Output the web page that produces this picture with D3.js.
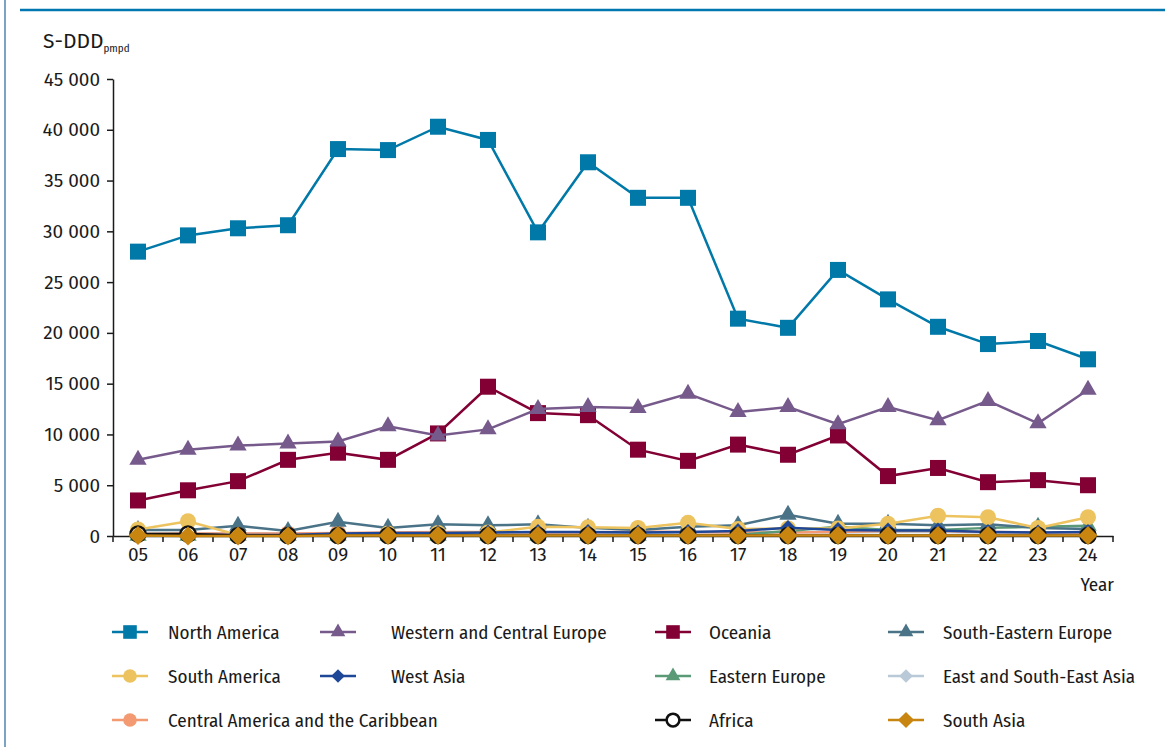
<!DOCTYPE html>
<html>
<head>
<meta charset="utf-8">
<style>
  body { margin: 0; background: #fff; }
  svg { font-family: "Fira Sans Condensed", Roboto, sans-serif; }
  .axis text { font-family: "Fira Sans", Roboto, sans-serif; font-size: 19px; fill: #1a1a1a; }
  .axis path, .axis line { stroke: #1a1a1a; stroke-width: 1.5; }
  .legend text { font-size: 19px; fill: #1a1a1a; }
</style>
<script src="https://cdn.jsdelivr.net/npm/d3@7"></script>
</head>
<body>
<svg width="1165" height="747"></svg>
<script>
// years on the x axis
var years = ["05","06","07","08","09","10","11","12","13","14","15","16","17","18","19","20","21","22","23","24"];
var yTicks = [0, 5000, 10000, 15000, 20000, 25000, 30000, 35000, 40000, 45000];

// S-DDD per million per day, by region
var northAmerica   = [28000, 29600, 30300, 30600, 38100, 38000, 40300, 39000, 29900, 36800, 33300, 33300, 21400, 20500, 26200, 23300, 20600, 18900, 19200, 17400];
var westCentralEur = [7500, 8500, 8900, 9100, 9300, 10800, 9900, 10500, 12500, 12700, 12600, 14000, 12200, 12700, 11000, 12700, 11400, 13300, 11100, 14400];
var oceania        = [3500, 4500, 5400, 7500, 8200, 7500, 10100, 14700, 12100, 11900, 8500, 7400, 9000, 8000, 9900, 5900, 6700, 5300, 5500, 5000];
var southEastEur   = [600, 600, 1000, 500, 1400, 800, 1150, 1050, 1150, 800, 600, 900, 1050, 2100, 1200, 1200, 1050, 1150, 800, 700];
var southAmerica   = [650, 1450, 100, 50, 150, 250, 300, 350, 900, 850, 800, 1300, 700, 750, 750, 1200, 2000, 1850, 800, 1850];
var westAsia       = [150, 150, 100, 100, 250, 300, 300, 350, 400, 400, 350, 400, 500, 800, 600, 550, 550, 400, 350, 400];
var easternEur     = [30, 30, 30, 30, 30, 30, 30, 30, 30, 30, 30, 30, 100, 500, 900, 600, 600, 800, 900, 1000];
var eastSEAsia     = [200, 250, 250, 250, 250, 250, 300, 300, 300, 300, 300, 350, 350, 400, 350, 400, 400, 350, 300, 300];
var centralAmerica = [200, 250, 250, 250, 300, 350, 400, 400, 350, 350, 450, 400, 350, 350, 400, 500, 500, 400, 350, 350];
var africa         = [200, 200, 50, 50, 50, 50, 50, 50, 50, 50, 50, 50, 50, 50, 50, 50, 50, 50, 50, 50];
var southAsia      = [50, 0, 0, 0, 50, 50, 50, 50, 50, 50, 50, 50, 50, 50, 50, 50, 50, 50, 50, 50];

var series = [
  {name: "East and South-East Asia", values: eastSEAsia, color: "#b9c9d8", shape: "diamond", col: 3, row: 1},
  {name: "Central America and the Caribbean", values: centralAmerica, color: "#f39a72", shape: "circle", col: 0, row: 2},
  {name: "Eastern Europe", values: easternEur, color: "#5a9a76", shape: "triangle", col: 2, row: 1},
  {name: "South-Eastern Europe", values: southEastEur, color: "#4a7388", shape: "triangle", col: 3, row: 0},
  {name: "South America", values: southAmerica, color: "#ecc35e", shape: "circle", col: 0, row: 1},
  {name: "West Asia", values: westAsia, color: "#1f4797", shape: "diamond", col: 1, row: 1},
  {name: "Africa", values: africa, color: "#111111", shape: "ring", col: 2, row: 2},
  {name: "South Asia", values: southAsia, color: "#c8850f", shape: "diamond", col: 3, row: 2},
  {name: "Oceania", values: oceania, color: "#820034", shape: "square", col: 2, row: 0},
  {name: "Western and Central Europe", values: westCentralEur, color: "#775a8c", shape: "triangle", col: 1, row: 0},
  {name: "North America", values: northAmerica, color: "#0079a9", shape: "square", col: 0, row: 0}
];

var svg = d3.select("svg");

// frame
svg.append("line").attr("x1", 5).attr("x2", 5).attr("y1", 0).attr("y2", 747)
   .attr("stroke", "#7aa3c4").attr("stroke-width", 2);
svg.append("line").attr("x1", 20).attr("x2", 1165).attr("y1", 10).attr("y2", 10)
   .attr("stroke", "#0077b0").attr("stroke-width", 2.5);

var x = d3.scaleBand().domain(years).range([113, 1113]);
var y = d3.scaleLinear().domain([0, 45000]).range([536, 79]);

var fmt = d3.formatLocale({decimal: ",", thousands: " ", grouping: [3], currency: ["", ""]}).format(",d");

svg.append("g").attr("class", "axis")
   .attr("transform", "translate(113,0)")
   .call(d3.axisLeft(y).tickValues(yTicks).tickFormat(fmt).tickSize(6).tickPadding(7).tickSizeOuter(0));

var xAxis = svg.append("g").attr("class", "axis")
   .attr("transform", "translate(0,536)")
   .call(d3.axisBottom(x).tickSize(0).tickPadding(12).tickSizeOuter(0));

// ticks on band boundaries
var bounds = years.map(function(d) { return x(d); }).concat([x.range()[1]]);
xAxis.selectAll(".bound").data(bounds).enter().append("line")
   .attr("x1", function(d) { return d; }).attr("x2", function(d) { return d; })
   .attr("y1", 0).attr("y2", 6);

// axis titles
var yt = svg.append("text").attr("x", 43).attr("y", 48).attr("font-size", 21).attr("fill", "#1a1a1a")
   .style("font-family", "'Fira Sans', Roboto, sans-serif");
yt.append("tspan").text("S-DDD");
yt.append("tspan").attr("font-size", 11).attr("dy", 4).style("font-family", "'Fira Sans Condensed', Roboto, sans-serif").text("pmpd");
svg.append("text").attr("x", 1114).attr("y", 591).attr("text-anchor", "end")
   .attr("font-size", 19).attr("fill", "#1a1a1a").text("Year");

function cx(i) { return x(years[i]) + x.bandwidth() / 2; }

function drawMarker(g, s, k) {
  if (s.shape === "square") {
    g.append("rect").attr("x", -8 * k).attr("y", -8 * k).attr("width", 16 * k).attr("height", 16 * k).attr("fill", s.color);
  } else if (s.shape === "triangle") {
    g.append("path").attr("d", d3.symbol().type(d3.symbolTriangle).size(130 * k * k)()).attr("fill", s.color);
  } else if (s.shape === "circle") {
    g.append("circle").attr("r", 8 * k).attr("fill", s.color);
  } else if (s.shape === "diamond") {
    var h = (s.name === "South Asia" ? 9.5 : 8) * k;
    g.append("path").attr("d", "M0," + (-h) + "L" + h + ",0L0," + h + "L" + (-h) + ",0Z").attr("fill", s.color);
  } else if (s.shape === "ring") {
    g.append("circle").attr("r", 7.5 * k).attr("fill", "#fff").attr("stroke", s.color).attr("stroke-width", 2.5);
  }
}

var line = d3.line().x(function(d, i) { return cx(i); }).y(function(d) { return y(d); });

series.forEach(function(s) {
  var g = svg.append("g");
  g.append("path").datum(s.values).attr("d", line)
   .attr("fill", "none").attr("stroke", s.color).attr("stroke-width", 2.5);
  s.values.forEach(function(v, i) {
    var m = g.append("g").attr("transform", "translate(" + cx(i) + "," + y(v) + ")");
    drawMarker(m, s, 1);
  });
});

// legend
var colX = [130, 338, 673, 906];
var textX = [168, 391, 709, 943];
var rowY = [632, 676, 720];
var legend = svg.append("g").attr("class", "legend");
series.forEach(function(s) {
  var g = legend.append("g");
  var lx = colX[s.col], ly = rowY[s.row];
  g.append("line").attr("x1", lx - 18).attr("x2", lx + 18).attr("y1", ly).attr("y2", ly)
   .attr("stroke", s.color).attr("stroke-width", 2.5);
  var m = g.append("g").attr("transform", "translate(" + lx + "," + ly + ")");
  drawMarker(m, s, 0.85);
  g.append("text").attr("x", textX[s.col]).attr("y", ly).attr("dy", "0.35em").text(s.name);
});
</script>
</body>
</html>
